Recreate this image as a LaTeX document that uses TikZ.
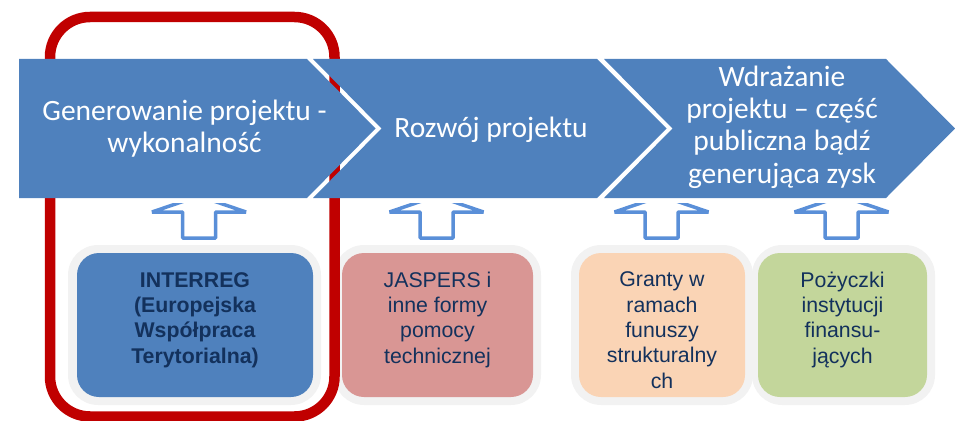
\documentclass[tikz,border=0pt]{standalone}
\usepackage{fontspec}
\setmainfont{Carlito}
\newfontfamily\arialf{Liberation Sans}
\definecolor{chev}{HTML}{4F81BD}
\definecolor{redline}{HTML}{C00000}
\definecolor{arrowblue}{HTML}{5A8FD8}
\definecolor{boxgray}{HTML}{F2F2F2}
\definecolor{navy}{HTML}{13315C}
\definecolor{pinkbox}{HTML}{D99694}
\definecolor{peachbox}{HTML}{FAD4B5}
\definecolor{greenbox}{HTML}{C3D69B}
\begin{document}
\begin{tikzpicture}[x=1pt,y=-1pt,
  chevtext/.style={text=white,align=center,inner sep=0pt,anchor=base,font=\fontsize{29.5}{32.2}\selectfont},
  boxtext/.style={text=navy,align=center,inner sep=0pt,anchor=base,font=\arialf\fontsize{21.3}{25.3}\selectfont},
  upar/.style={draw=arrowblue,fill=white,line width=3.5pt,line join=bevel},
  outerbox/.style={fill=boxgray,rounded corners=30pt},
  innerbox/.style={rounded corners=22pt}]
\useasboundingbox (0,0) rectangle (955,420);
% boxes
\fill[outerbox] (68,245) rectangle (321,405);
\fill[outerbox] (334,245) rectangle (541,405);
\fill[outerbox] (571,245) rectangle (753,405);
\fill[outerbox] (752,245) rectangle (935,405);
\fill[innerbox,fill=chev] (77,253) rectangle (313,397);
\fill[innerbox,fill=pinkbox] (342,253) rectangle (533,397);
\fill[innerbox,fill=peachbox] (579,253) rectangle (745,397);
\fill[innerbox,fill=greenbox] (758,253) rectangle (927,397);
% anchor=base is the baseline of the last line
\node[boxtext,font=\arialf\bfseries\fontsize{21.3}{25.3}\selectfont] (t1) at (195,363) {INTERREG\\(Europejska\\Współpraca\\Terytorialna)};
\node[boxtext] (t2) at (437.5,363) {JASPERS i\\inne formy\\pomocy\\technicznej};
\node[boxtext] (t3) at (662,388) {Granty w\\ramach\\funuszy\\strukturalny\\ch};
\node[boxtext] (t4) at (842.5,363) {Pożyczki\\instytucji\\finansu-\\jących};
% red frame
\draw[redline,line width=10.5pt,rounded corners=40pt] (50,17) rectangle (334.5,416.5);
% arrows
\begin{scope}
\clip (0,203.5) rectangle (955,250);
\foreach \c in {199,436.5,661.5,841.5}{
  \draw[upar] (\c-16.5,238) -- (\c-16.5,212) -- (\c-47,212) -- (\c,196) -- (\c+47,212) -- (\c+16.5,212) -- (\c+16.5,238) -- cycle;
}
\end{scope}
% chevrons
\fill[chev] (19,59) -- (307,59) -- (375.5,128.5) -- (307,198) -- (19,198) -- cycle;
\fill[chev] (313,59) -- (597,59) -- (666.5,128.5) -- (597,198) -- (313,198) -- (381.5,128.5) -- cycle;
\fill[chev] (604,59) -- (886,59) -- (955,128.5) -- (886,198) -- (604,198) -- (672.5,128.5) -- cycle;
\node[chevtext] (c1) at (184.5,152.5) {Generowanie projektu -\\wykonalność};
\node[chevtext] (c2) at (491,137) {Rozwój projektu};
\node[chevtext] (c3) at (782,183) {Wdrażanie\\projektu – część\\publiczna bądź\\generująca zysk};
\end{tikzpicture}
\end{document}
